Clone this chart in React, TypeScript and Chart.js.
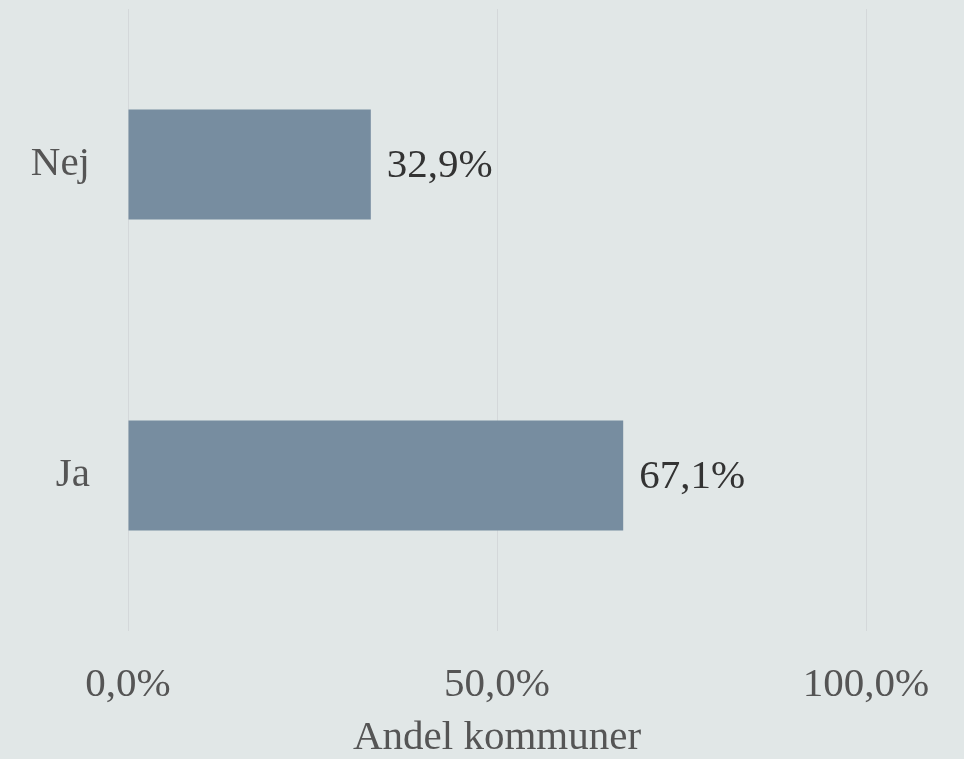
import React, { useEffect, useRef } from "react";
import { Chart, registerables } from "chart.js";

Chart.register(...registerables);

const categories = ["Nej", "Ja"];
const shares = [32.9, 67.1];
const xTicks = [0, 50, 100];
const xTitle = "Andel kommuner";

const fmt = (v: number) => v.toFixed(1).replace(".", ",") + "%";

const FONT = "'Liberation Serif', 'Times New Roman', serif";

const valueLabels = {
  id: "valueLabels",
  afterDatasetsDraw(chart: any) {
    const ctx = chart.ctx;
    const meta = chart.getDatasetMeta(0);
    ctx.save();
    ctx.font = `41px ${FONT}`;
    ctx.fillStyle = "#333333";
    ctx.textAlign = "left";
    ctx.textBaseline = "middle";
    meta.data.forEach((bar: any, i: number) => {
      ctx.fillText(fmt(shares[i]), bar.x + 16, bar.y + 2);
    });
    ctx.restore();
  },
};

export default function App() {
  const ref = useRef<HTMLCanvasElement>(null);
  useEffect(() => {
    document.body.style.margin = "0";
    const chart = new Chart(ref.current!, {
      type: "bar",
      data: {
        labels: categories,
        datasets: [
          {
            data: shares,
            backgroundColor: "#778da0",
            borderWidth: 0,
            categoryPercentage: 0.354,
            barPercentage: 1,
          },
        ],
      },
      options: {
        indexAxis: "y",
        animation: false,
        responsive: true,
        maintainAspectRatio: false,
        layout: { padding: { top: 9, right: 98, left: 0, bottom: 0 } },
        plugins: {
          legend: { display: false },
          tooltip: { enabled: false },
        },
        scales: {
          x: {
            min: 0,
            max: 100,
            afterBuildTicks: (scale: any) => {
              scale.ticks = xTicks.map((v) => ({ value: v }));
            },
            afterFit: (scale: any) => {
              scale.height = 128;
            },
            grid: { color: "#d4d8da", lineWidth: 1, drawTicks: false },
            border: { display: false },
            ticks: {
              padding: 30,
              color: "#555555",
              font: { family: FONT, size: 41 },
              callback: (v: any) => fmt(Number(v)),
              maxRotation: 0,
            },
            title: {
              display: true,
              text: xTitle,
              color: "#555555",
              font: { family: FONT, size: 41, lineHeight: 1 },
              padding: { top: 0, bottom: 0 },
            },
          },
          y: {
            afterFit: (scale: any) => {
              scale.width = 128;
              scale.paddingTop = 0;
              scale.paddingBottom = 0;
            },
            grid: { display: false, drawTicks: false },
            border: { display: false },
            ticks: {
              padding: 38,
              color: "#555555",
              font: { family: FONT, size: 41 },
            },
          },
        },
      },
      plugins: [valueLabels],
    });
    return () => chart.destroy();
  }, []);
  return (
    <div
      style={{
        position: "fixed",
        left: 0,
        top: 0,
        width: 964,
        height: 759,
        background: "#e1e7e7",
      }}
    >
      <canvas ref={ref} />
    </div>
  );
}
